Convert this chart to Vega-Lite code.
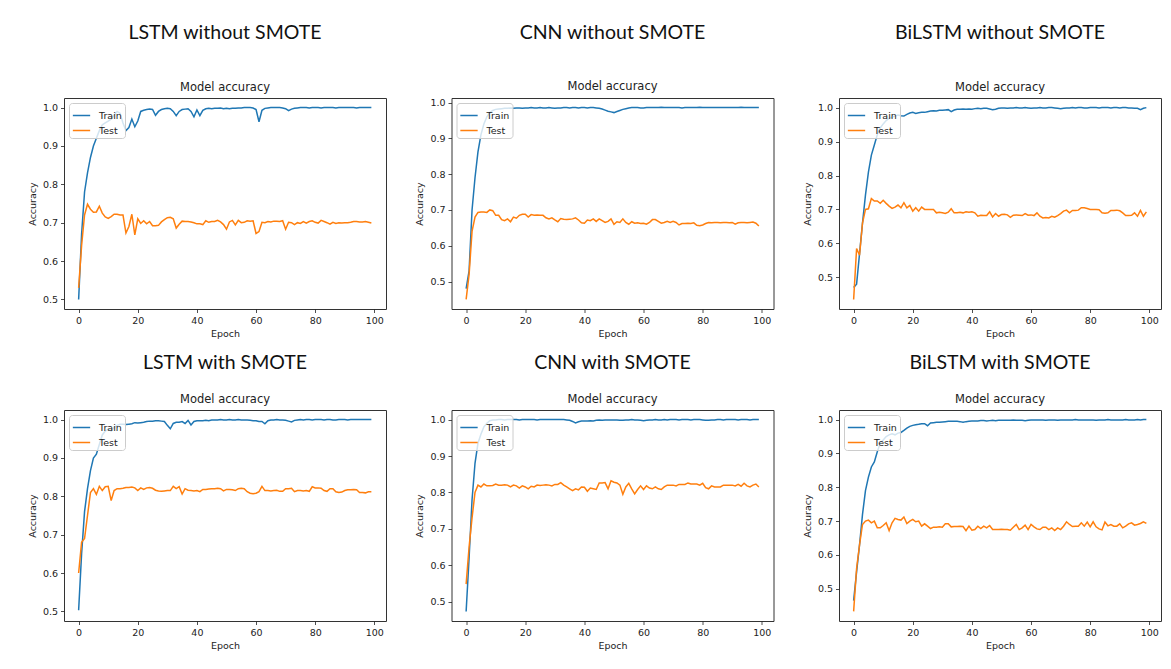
{
"$schema": "https://vega.github.io/schema/vega-lite/v6.json",
"background": "white",
"padding": {"left": 26, "top": 22, "right": 5, "bottom": 5},
"config": {
 "view": {"stroke": "#333333", "strokeWidth": 1},
 "title": {"font": "Lato", "fontSize": 19.5, "fontWeight": "normal", "color": "#111111", "subtitleFont": "DejaVu Sans", "subtitleFontSize": 11.5, "subtitleColor": "#222222", "anchor": "middle", "frame": "group", "offset": 4},
 "axis": {"domain": false, "grid": false, "tickColor": "#222222", "tickSize": 3.5, "tickWidth": 0.8, "labelFont": "DejaVu Sans", "labelFontSize": 9.5, "labelColor": "#222222", "labelPadding": 3, "labelFlush": false, "labelOverlap": false, "titleFont": "DejaVu Sans", "titleFontSize": 9.5, "titleFontWeight": "normal", "titleColor": "#222222", "titlePadding": 3},
 "axisY": {"titlePadding": 5},
 "legend": {"orient": "top-left", "offset": 5, "title": null, "fillColor": "rgba(255,255,255,0.8)", "strokeColor": "#cccccc", "cornerRadius": 3, "padding": 3, "symbolType": "stroke", "symbolSize": 300, "symbolStrokeWidth": 1.5, "labelFont": "DejaVu Sans", "labelFontSize": 9.5, "labelColor": "#222222", "labelOffset": 8, "rowPadding": 1}
},
"datasets": {
"p1": [
{"e":0,"Train":0.50,"Test":0.53},{"e":1,"Train":0.67,"Test":0.64},{"e":2,"Train":0.78,"Test":0.72},{"e":3,"Train":0.83,"Test":0.748},{"e":4,"Train":0.87,"Test":0.735},{"e":5,"Train":0.90,"Test":0.727},{"e":6,"Train":0.92,"Test":0.728},{"e":7,"Train":0.94,"Test":0.743},{"e":8,"Train":0.955,"Test":0.725},{"e":9,"Train":0.96,"Test":0.715},
{"e":10,"Train":0.965,"Test":0.711},{"e":11,"Train":0.97,"Test":0.716},{"e":12,"Train":0.98,"Test":0.722},{"e":13,"Train":0.99,"Test":0.722},{"e":14,"Train":0.985,"Test":0.72},{"e":15,"Train":0.96,"Test":0.72},{"e":16,"Train":0.94,"Test":0.673},{"e":17,"Train":0.948,"Test":0.69},{"e":18,"Train":0.97,"Test":0.722},{"e":19,"Train":0.95,"Test":0.668},
{"e":20,"Train":0.965,"Test":0.71},{"e":21,"Train":0.99,"Test":0.698},{"e":22,"Train":0.993,"Test":0.705},{"e":23,"Train":0.995,"Test":0.697},{"e":24,"Train":0.996,"Test":0.703},{"e":25,"Train":0.995,"Test":0.692},{"e":26,"Train":0.98,"Test":0.692},{"e":27,"Train":0.99,"Test":0.693},{"e":28,"Train":0.995,"Test":0.702},{"e":29,"Train":0.997,"Test":0.708},
{"e":30,"Train":0.998,"Test":0.713},{"e":31,"Train":0.997,"Test":0.714},{"e":32,"Train":0.99,"Test":0.71},{"e":33,"Train":0.979,"Test":0.686},{"e":34,"Train":0.99,"Test":0.696},{"e":35,"Train":0.995,"Test":0.704},{"e":36,"Train":0.996,"Test":0.703},{"e":37,"Train":0.997,"Test":0.703},{"e":38,"Train":0.99,"Test":0.702},{"e":39,"Train":0.976,"Test":0.7},
{"e":40,"Train":0.994,"Test":0.697},{"e":41,"Train":0.979,"Test":0.697},{"e":42,"Train":0.993,"Test":0.695},{"e":43,"Train":0.997,"Test":0.705},{"e":44,"Train":0.998,"Test":0.701},{"e":45,"Train":0.997,"Test":0.703},{"e":46,"Train":0.998,"Test":0.703},{"e":47,"Train":0.998,"Test":0.706},{"e":48,"Train":0.999,"Test":0.702},{"e":49,"Train":0.997,"Test":0.695},
{"e":50,"Train":0.998,"Test":0.683},{"e":51,"Train":0.997,"Test":0.702},{"e":52,"Train":0.998,"Test":0.706},{"e":53,"Train":0.998,"Test":0.694},{"e":54,"Train":0.999,"Test":0.706},{"e":55,"Train":0.999,"Test":0.7},{"e":56,"Train":1.0,"Test":0.701},{"e":57,"Train":1.0,"Test":0.705},{"e":58,"Train":1.0,"Test":0.704},{"e":59,"Train":0.999,"Test":0.705},
{"e":60,"Train":0.995,"Test":0.672},{"e":61,"Train":0.963,"Test":0.677},{"e":62,"Train":0.993,"Test":0.701},{"e":63,"Train":0.998,"Test":0.7},{"e":64,"Train":0.999,"Test":0.703},{"e":65,"Train":1.0,"Test":0.702},{"e":66,"Train":1.0,"Test":0.704},{"e":67,"Train":1.0,"Test":0.704},{"e":68,"Train":1.0,"Test":0.703},{"e":69,"Train":0.999,"Test":0.705},
{"e":70,"Train":0.997,"Test":0.683},{"e":71,"Train":0.992,"Test":0.701},{"e":72,"Train":0.996,"Test":0.7},{"e":73,"Train":0.998,"Test":0.695},{"e":74,"Train":0.999,"Test":0.7},{"e":75,"Train":1.0,"Test":0.698},{"e":76,"Train":1.0,"Test":0.703},{"e":77,"Train":1.0,"Test":0.699},{"e":78,"Train":0.999,"Test":0.703},{"e":79,"Train":1.0,"Test":0.705},
{"e":80,"Train":1.0,"Test":0.701},{"e":81,"Train":1.0,"Test":0.699},{"e":82,"Train":0.999,"Test":0.706},{"e":83,"Train":1.0,"Test":0.703},{"e":84,"Train":1.0,"Test":0.7},{"e":85,"Train":1.0,"Test":0.696},{"e":86,"Train":1.0,"Test":0.701},{"e":87,"Train":0.999,"Test":0.698},{"e":88,"Train":1.0,"Test":0.7},{"e":89,"Train":1.0,"Test":0.699},
{"e":90,"Train":1.0,"Test":0.7},{"e":91,"Train":1.0,"Test":0.7},{"e":92,"Train":1.0,"Test":0.701},{"e":93,"Train":1.0,"Test":0.703},{"e":94,"Train":0.999,"Test":0.703},{"e":95,"Train":1.0,"Test":0.702},{"e":96,"Train":1.0,"Test":0.702},{"e":97,"Train":1.0,"Test":0.703},{"e":98,"Train":1.0,"Test":0.701},{"e":99,"Train":1.0,"Test":0.699}
],
"p2": [
{"e":0,"Train":0.48,"Test":0.45},{"e":1,"Train":0.53,"Test":0.52},{"e":2,"Train":0.70,"Test":0.64},{"e":3,"Train":0.79,"Test":0.68},{"e":4,"Train":0.862,"Test":0.693},{"e":5,"Train":0.91,"Test":0.694},{"e":6,"Train":0.94,"Test":0.694},{"e":7,"Train":0.96,"Test":0.693},{"e":8,"Train":0.972,"Test":0.70},{"e":9,"Train":0.978,"Test":0.698},
{"e":10,"Train":0.981,"Test":0.685},{"e":11,"Train":0.982,"Test":0.685},{"e":12,"Train":0.983,"Test":0.673},{"e":13,"Train":0.984,"Test":0.67},{"e":14,"Train":0.984,"Test":0.675},{"e":15,"Train":0.985,"Test":0.667},{"e":16,"Train":0.984,"Test":0.68},{"e":17,"Train":0.985,"Test":0.677},{"e":18,"Train":0.985,"Test":0.685},{"e":19,"Train":0.984,"Test":0.688},
{"e":20,"Train":0.985,"Test":0.688},{"e":21,"Train":0.985,"Test":0.68},{"e":22,"Train":0.986,"Test":0.687},{"e":23,"Train":0.985,"Test":0.685},{"e":24,"Train":0.985,"Test":0.686},{"e":25,"Train":0.986,"Test":0.685},{"e":26,"Train":0.985,"Test":0.685},{"e":27,"Train":0.985,"Test":0.678},{"e":28,"Train":0.986,"Test":0.675},{"e":29,"Train":0.985,"Test":0.678},
{"e":30,"Train":0.984,"Test":0.672},{"e":31,"Train":0.985,"Test":0.667},{"e":32,"Train":0.985,"Test":0.676},{"e":33,"Train":0.986,"Test":0.674},{"e":34,"Train":0.986,"Test":0.673},{"e":35,"Train":0.985,"Test":0.674},{"e":36,"Train":0.986,"Test":0.675},{"e":37,"Train":0.986,"Test":0.678},{"e":38,"Train":0.985,"Test":0.672},{"e":39,"Train":0.986,"Test":0.664},
{"e":40,"Train":0.986,"Test":0.663},{"e":41,"Train":0.985,"Test":0.672},{"e":42,"Train":0.986,"Test":0.67},{"e":43,"Train":0.986,"Test":0.675},{"e":44,"Train":0.985,"Test":0.668},{"e":45,"Train":0.984,"Test":0.675},{"e":46,"Train":0.982,"Test":0.67},{"e":47,"Train":0.979,"Test":0.665},{"e":48,"Train":0.976,"Test":0.668},{"e":49,"Train":0.974,"Test":0.675},
{"e":50,"Train":0.972,"Test":0.66},{"e":51,"Train":0.975,"Test":0.667},{"e":52,"Train":0.978,"Test":0.665},{"e":53,"Train":0.981,"Test":0.675},{"e":54,"Train":0.983,"Test":0.665},{"e":55,"Train":0.985,"Test":0.66},{"e":56,"Train":0.986,"Test":0.667},{"e":57,"Train":0.986,"Test":0.663},{"e":58,"Train":0.986,"Test":0.664},{"e":59,"Train":0.985,"Test":0.662},
{"e":60,"Train":0.985,"Test":0.663},{"e":61,"Train":0.986,"Test":0.66},{"e":62,"Train":0.986,"Test":0.665},{"e":63,"Train":0.986,"Test":0.673},{"e":64,"Train":0.986,"Test":0.673},{"e":65,"Train":0.986,"Test":0.668},{"e":66,"Train":0.987,"Test":0.663},{"e":67,"Train":0.986,"Test":0.665},{"e":68,"Train":0.986,"Test":0.668},{"e":69,"Train":0.986,"Test":0.665},
{"e":70,"Train":0.986,"Test":0.668},{"e":71,"Train":0.986,"Test":0.665},{"e":72,"Train":0.986,"Test":0.658},{"e":73,"Train":0.985,"Test":0.662},{"e":74,"Train":0.986,"Test":0.662},{"e":75,"Train":0.986,"Test":0.663},{"e":76,"Train":0.986,"Test":0.662},{"e":77,"Train":0.986,"Test":0.664},{"e":78,"Train":0.986,"Test":0.657},{"e":79,"Train":0.987,"Test":0.656},
{"e":80,"Train":0.986,"Test":0.658},{"e":81,"Train":0.986,"Test":0.662},{"e":82,"Train":0.986,"Test":0.665},{"e":83,"Train":0.986,"Test":0.664},{"e":84,"Train":0.986,"Test":0.665},{"e":85,"Train":0.986,"Test":0.665},{"e":86,"Train":0.986,"Test":0.664},{"e":87,"Train":0.986,"Test":0.665},{"e":88,"Train":0.986,"Test":0.665},{"e":89,"Train":0.986,"Test":0.664},
{"e":90,"Train":0.986,"Test":0.665},{"e":91,"Train":0.986,"Test":0.66},{"e":92,"Train":0.986,"Test":0.664},{"e":93,"Train":0.987,"Test":0.665},{"e":94,"Train":0.986,"Test":0.665},{"e":95,"Train":0.986,"Test":0.664},{"e":96,"Train":0.986,"Test":0.665},{"e":97,"Train":0.986,"Test":0.666},{"e":98,"Train":0.986,"Test":0.663},{"e":99,"Train":0.986,"Test":0.655}
],
"p3": [
{"e":0,"Train":0.47,"Test":0.435},{"e":1,"Train":0.48,"Test":0.585},{"e":2,"Train":0.57,"Test":0.565},{"e":3,"Train":0.66,"Test":0.66},{"e":4,"Train":0.742,"Test":0.70},{"e":5,"Train":0.81,"Test":0.702},{"e":6,"Train":0.86,"Test":0.732},{"e":7,"Train":0.89,"Test":0.725},{"e":8,"Train":0.92,"Test":0.725},{"e":9,"Train":0.94,"Test":0.718},
{"e":10,"Train":0.952,"Test":0.727},{"e":11,"Train":0.962,"Test":0.718},{"e":12,"Train":0.968,"Test":0.71},{"e":13,"Train":0.972,"Test":0.703},{"e":14,"Train":0.975,"Test":0.707},{"e":15,"Train":0.978,"Test":0.713},{"e":16,"Train":0.976,"Test":0.705},{"e":17,"Train":0.975,"Test":0.72},{"e":18,"Train":0.98,"Test":0.705},{"e":19,"Train":0.984,"Test":0.712},
{"e":20,"Train":0.986,"Test":0.695},{"e":21,"Train":0.983,"Test":0.705},{"e":22,"Train":0.985,"Test":0.695},{"e":23,"Train":0.986,"Test":0.707},{"e":24,"Train":0.986,"Test":0.70},{"e":25,"Train":0.988,"Test":0.70},{"e":26,"Train":0.99,"Test":0.70},{"e":27,"Train":0.991,"Test":0.70},{"e":28,"Train":0.99,"Test":0.69},{"e":29,"Train":0.992,"Test":0.692},
{"e":30,"Train":0.992,"Test":0.69},{"e":31,"Train":0.993,"Test":0.688},{"e":32,"Train":0.994,"Test":0.692},{"e":33,"Train":0.988,"Test":0.702},{"e":34,"Train":0.993,"Test":0.69},{"e":35,"Train":0.995,"Test":0.69},{"e":36,"Train":0.995,"Test":0.692},{"e":37,"Train":0.996,"Test":0.69},{"e":38,"Train":0.995,"Test":0.693},{"e":39,"Train":0.996,"Test":0.692},
{"e":40,"Train":0.995,"Test":0.693},{"e":41,"Train":0.997,"Test":0.69},{"e":42,"Train":0.998,"Test":0.68},{"e":43,"Train":0.997,"Test":0.683},{"e":44,"Train":0.998,"Test":0.682},{"e":45,"Train":0.998,"Test":0.682},{"e":46,"Train":0.996,"Test":0.693},{"e":47,"Train":0.994,"Test":0.678},{"e":48,"Train":0.995,"Test":0.688},{"e":49,"Train":0.998,"Test":0.68},
{"e":50,"Train":0.999,"Test":0.685},{"e":51,"Train":0.999,"Test":0.686},{"e":52,"Train":0.998,"Test":0.684},{"e":53,"Train":0.999,"Test":0.677},{"e":54,"Train":0.999,"Test":0.683},{"e":55,"Train":1.0,"Test":0.684},{"e":56,"Train":0.999,"Test":0.683},{"e":57,"Train":0.999,"Test":0.682},{"e":58,"Train":1.0,"Test":0.688},{"e":59,"Train":0.999,"Test":0.683},
{"e":60,"Train":0.998,"Test":0.684},{"e":61,"Train":0.999,"Test":0.682},{"e":62,"Train":0.999,"Test":0.69},{"e":63,"Train":1.0,"Test":0.68},{"e":64,"Train":0.999,"Test":0.675},{"e":65,"Train":0.999,"Test":0.676},{"e":66,"Train":1.0,"Test":0.675},{"e":67,"Train":1.0,"Test":0.68},{"e":68,"Train":0.999,"Test":0.677},{"e":69,"Train":0.998,"Test":0.682},
{"e":70,"Train":0.997,"Test":0.688},{"e":71,"Train":0.998,"Test":0.695},{"e":72,"Train":0.999,"Test":0.698},{"e":73,"Train":0.999,"Test":0.69},{"e":74,"Train":1.0,"Test":0.697},{"e":75,"Train":0.999,"Test":0.697},{"e":76,"Train":1.0,"Test":0.698},{"e":77,"Train":1.0,"Test":0.705},{"e":78,"Train":0.999,"Test":0.705},{"e":79,"Train":0.999,"Test":0.703},
{"e":80,"Train":1.0,"Test":0.70},{"e":81,"Train":1.0,"Test":0.70},{"e":82,"Train":1.0,"Test":0.70},{"e":83,"Train":0.999,"Test":0.699},{"e":84,"Train":1.0,"Test":0.69},{"e":85,"Train":1.0,"Test":0.689},{"e":86,"Train":1.0,"Test":0.69},{"e":87,"Train":0.999,"Test":0.697},{"e":88,"Train":1.0,"Test":0.697},{"e":89,"Train":1.0,"Test":0.698},
{"e":90,"Train":0.999,"Test":0.696},{"e":91,"Train":1.0,"Test":0.69},{"e":92,"Train":1.0,"Test":0.682},{"e":93,"Train":0.999,"Test":0.682},{"e":94,"Train":0.999,"Test":0.683},{"e":95,"Train":0.998,"Test":0.69},{"e":96,"Train":0.998,"Test":0.68},{"e":97,"Train":0.994,"Test":0.697},{"e":98,"Train":0.998,"Test":0.68},{"e":99,"Train":1.0,"Test":0.693}
],
"p4": [
{"e":0,"Train":0.503,"Test":0.60},{"e":1,"Train":0.65,"Test":0.68},{"e":2,"Train":0.76,"Test":0.69},{"e":3,"Train":0.82,"Test":0.75},{"e":4,"Train":0.867,"Test":0.81},{"e":5,"Train":0.90,"Test":0.82},{"e":6,"Train":0.91,"Test":0.805},{"e":7,"Train":0.935,"Test":0.826},{"e":8,"Train":0.96,"Test":0.815},{"e":9,"Train":0.97,"Test":0.825},
{"e":10,"Train":0.975,"Test":0.826},{"e":11,"Train":0.97,"Test":0.789},{"e":12,"Train":0.98,"Test":0.815},{"e":13,"Train":0.985,"Test":0.82},{"e":14,"Train":0.988,"Test":0.82},{"e":15,"Train":0.988,"Test":0.821},{"e":16,"Train":0.987,"Test":0.823},{"e":17,"Train":0.988,"Test":0.823},{"e":18,"Train":0.989,"Test":0.824},{"e":19,"Train":0.992,"Test":0.822},
{"e":20,"Train":0.991,"Test":0.815},{"e":21,"Train":0.992,"Test":0.822},{"e":22,"Train":0.993,"Test":0.818},{"e":23,"Train":0.995,"Test":0.822},{"e":24,"Train":0.996,"Test":0.823},{"e":25,"Train":0.996,"Test":0.821},{"e":26,"Train":0.997,"Test":0.816},{"e":27,"Train":0.997,"Test":0.814},{"e":28,"Train":0.996,"Test":0.813},{"e":29,"Train":0.995,"Test":0.814},
{"e":30,"Train":0.985,"Test":0.815},{"e":31,"Train":0.976,"Test":0.815},{"e":32,"Train":0.99,"Test":0.826},{"e":33,"Train":0.993,"Test":0.82},{"e":34,"Train":0.993,"Test":0.825},{"e":35,"Train":0.995,"Test":0.806},{"e":36,"Train":0.99,"Test":0.82},{"e":37,"Train":0.998,"Test":0.816},{"e":38,"Train":0.986,"Test":0.815},{"e":39,"Train":0.995,"Test":0.814},
{"e":40,"Train":0.997,"Test":0.815},{"e":41,"Train":0.997,"Test":0.812},{"e":42,"Train":0.997,"Test":0.818},{"e":43,"Train":0.998,"Test":0.818},{"e":44,"Train":0.997,"Test":0.819},{"e":45,"Train":0.999,"Test":0.82},{"e":46,"Train":0.999,"Test":0.82},{"e":47,"Train":0.999,"Test":0.821},{"e":48,"Train":1.0,"Test":0.82},{"e":49,"Train":0.999,"Test":0.814},
{"e":50,"Train":0.999,"Test":0.818},{"e":51,"Train":1.0,"Test":0.818},{"e":52,"Train":0.999,"Test":0.817},{"e":53,"Train":0.999,"Test":0.815},{"e":54,"Train":1.0,"Test":0.82},{"e":55,"Train":0.999,"Test":0.821},{"e":56,"Train":0.999,"Test":0.82},{"e":57,"Train":0.999,"Test":0.812},{"e":58,"Train":0.998,"Test":0.808},{"e":59,"Train":0.997,"Test":0.807},
{"e":60,"Train":0.997,"Test":0.808},{"e":61,"Train":0.995,"Test":0.812},{"e":62,"Train":0.995,"Test":0.826},{"e":63,"Train":0.989,"Test":0.815},{"e":64,"Train":0.997,"Test":0.815},{"e":65,"Train":0.999,"Test":0.814},{"e":66,"Train":0.999,"Test":0.815},{"e":67,"Train":1.0,"Test":0.816},{"e":68,"Train":0.999,"Test":0.813},{"e":69,"Train":0.999,"Test":0.813},
{"e":70,"Train":0.998,"Test":0.82},{"e":71,"Train":0.996,"Test":0.82},{"e":72,"Train":0.994,"Test":0.821},{"e":73,"Train":0.998,"Test":0.812},{"e":74,"Train":0.999,"Test":0.815},{"e":75,"Train":1.0,"Test":0.815},{"e":76,"Train":0.999,"Test":0.814},{"e":77,"Train":1.0,"Test":0.815},{"e":78,"Train":1.0,"Test":0.813},{"e":79,"Train":0.999,"Test":0.825},
{"e":80,"Train":1.0,"Test":0.822},{"e":81,"Train":1.0,"Test":0.822},{"e":82,"Train":1.0,"Test":0.821},{"e":83,"Train":0.999,"Test":0.815},{"e":84,"Train":1.0,"Test":0.813},{"e":85,"Train":1.0,"Test":0.82},{"e":86,"Train":0.999,"Test":0.82},{"e":87,"Train":0.999,"Test":0.812},{"e":88,"Train":1.0,"Test":0.81},{"e":89,"Train":1.0,"Test":0.811},
{"e":90,"Train":1.0,"Test":0.815},{"e":91,"Train":0.999,"Test":0.817},{"e":92,"Train":1.0,"Test":0.817},{"e":93,"Train":1.0,"Test":0.818},{"e":94,"Train":1.0,"Test":0.817},{"e":95,"Train":1.0,"Test":0.81},{"e":96,"Train":1.0,"Test":0.81},{"e":97,"Train":1.0,"Test":0.809},{"e":98,"Train":1.0,"Test":0.812},{"e":99,"Train":1.0,"Test":0.812}
],
"p5": [
{"e":0,"Train":0.473,"Test":0.548},{"e":1,"Train":0.62,"Test":0.65},{"e":2,"Train":0.78,"Test":0.73},{"e":3,"Train":0.88,"Test":0.80},{"e":4,"Train":0.935,"Test":0.82},{"e":5,"Train":0.96,"Test":0.815},{"e":6,"Train":0.98,"Test":0.823},{"e":7,"Train":0.99,"Test":0.818},{"e":8,"Train":0.997,"Test":0.818},{"e":9,"Train":0.999,"Test":0.819},
{"e":10,"Train":0.999,"Test":0.823},{"e":11,"Train":1.0,"Test":0.82},{"e":12,"Train":1.0,"Test":0.82},{"e":13,"Train":0.999,"Test":0.821},{"e":14,"Train":1.0,"Test":0.82},{"e":15,"Train":1.0,"Test":0.815},{"e":16,"Train":1.0,"Test":0.82},{"e":17,"Train":1.0,"Test":0.818},{"e":18,"Train":0.999,"Test":0.812},{"e":19,"Train":1.0,"Test":0.818},
{"e":20,"Train":1.0,"Test":0.815},{"e":21,"Train":1.0,"Test":0.81},{"e":22,"Train":1.0,"Test":0.817},{"e":23,"Train":1.0,"Test":0.815},{"e":24,"Train":0.999,"Test":0.82},{"e":25,"Train":1.0,"Test":0.819},{"e":26,"Train":1.0,"Test":0.82},{"e":27,"Train":1.0,"Test":0.821},{"e":28,"Train":1.0,"Test":0.82},{"e":29,"Train":1.0,"Test":0.818},
{"e":30,"Train":1.0,"Test":0.822},{"e":31,"Train":1.0,"Test":0.822},{"e":32,"Train":1.0,"Test":0.827},{"e":33,"Train":1.0,"Test":0.82},{"e":34,"Train":0.999,"Test":0.815},{"e":35,"Train":0.998,"Test":0.81},{"e":36,"Train":0.995,"Test":0.805},{"e":37,"Train":0.991,"Test":0.81},{"e":38,"Train":0.994,"Test":0.807},{"e":39,"Train":0.996,"Test":0.815},
{"e":40,"Train":0.996,"Test":0.814},{"e":41,"Train":0.996,"Test":0.803},{"e":42,"Train":0.997,"Test":0.812},{"e":43,"Train":0.996,"Test":0.81},{"e":44,"Train":0.998,"Test":0.808},{"e":45,"Train":0.999,"Test":0.826},{"e":46,"Train":0.998,"Test":0.826},{"e":47,"Train":0.999,"Test":0.827},{"e":48,"Train":0.999,"Test":0.81},{"e":49,"Train":0.999,"Test":0.832},
{"e":50,"Train":0.999,"Test":0.828},{"e":51,"Train":0.999,"Test":0.826},{"e":52,"Train":0.998,"Test":0.82},{"e":53,"Train":0.998,"Test":0.795},{"e":54,"Train":0.999,"Test":0.815},{"e":55,"Train":0.999,"Test":0.825},{"e":56,"Train":1.0,"Test":0.81},{"e":57,"Train":0.999,"Test":0.796},{"e":58,"Train":0.999,"Test":0.808},{"e":59,"Train":0.998,"Test":0.818},
{"e":60,"Train":0.997,"Test":0.808},{"e":61,"Train":0.998,"Test":0.818},{"e":62,"Train":0.999,"Test":0.812},{"e":63,"Train":0.999,"Test":0.81},{"e":64,"Train":1.0,"Test":0.815},{"e":65,"Train":0.999,"Test":0.81},{"e":66,"Train":0.999,"Test":0.808},{"e":67,"Train":1.0,"Test":0.815},{"e":68,"Train":0.999,"Test":0.82},{"e":69,"Train":1.0,"Test":0.82},
{"e":70,"Train":1.0,"Test":0.82},{"e":71,"Train":1.0,"Test":0.818},{"e":72,"Train":0.999,"Test":0.822},{"e":73,"Train":1.0,"Test":0.822},{"e":74,"Train":1.0,"Test":0.822},{"e":75,"Train":1.0,"Test":0.826},{"e":76,"Train":0.999,"Test":0.823},{"e":77,"Train":1.0,"Test":0.823},{"e":78,"Train":1.0,"Test":0.823},{"e":79,"Train":1.0,"Test":0.82},
{"e":80,"Train":0.999,"Test":0.825},{"e":81,"Train":0.998,"Test":0.813},{"e":82,"Train":0.998,"Test":0.81},{"e":83,"Train":0.999,"Test":0.818},{"e":84,"Train":0.999,"Test":0.815},{"e":85,"Train":1.0,"Test":0.815},{"e":86,"Train":1.0,"Test":0.815},{"e":87,"Train":0.999,"Test":0.82},{"e":88,"Train":1.0,"Test":0.82},{"e":89,"Train":1.0,"Test":0.82},
{"e":90,"Train":1.0,"Test":0.82},{"e":91,"Train":1.0,"Test":0.818},{"e":92,"Train":0.999,"Test":0.822},{"e":93,"Train":1.0,"Test":0.817},{"e":94,"Train":1.0,"Test":0.825},{"e":95,"Train":1.0,"Test":0.818},{"e":96,"Train":0.999,"Test":0.815},{"e":97,"Train":1.0,"Test":0.82},{"e":98,"Train":1.0,"Test":0.823},{"e":99,"Train":1.0,"Test":0.815}
],
"p6": [
{"e":0,"Train":0.465,"Test":0.433},{"e":1,"Train":0.55,"Test":0.56},{"e":2,"Train":0.63,"Test":0.63},{"e":3,"Train":0.72,"Test":0.69},{"e":4,"Train":0.79,"Test":0.70},{"e":5,"Train":0.83,"Test":0.703},{"e":6,"Train":0.86,"Test":0.695},{"e":7,"Train":0.875,"Test":0.70},{"e":8,"Train":0.905,"Test":0.68},{"e":9,"Train":0.93,"Test":0.68},
{"e":10,"Train":0.94,"Test":0.687},{"e":11,"Train":0.95,"Test":0.695},{"e":12,"Train":0.955,"Test":0.672},{"e":13,"Train":0.958,"Test":0.695},{"e":14,"Train":0.955,"Test":0.708},{"e":15,"Train":0.96,"Test":0.705},{"e":16,"Train":0.962,"Test":0.703},{"e":17,"Train":0.968,"Test":0.712},{"e":18,"Train":0.975,"Test":0.693},{"e":19,"Train":0.98,"Test":0.70},
{"e":20,"Train":0.983,"Test":0.705},{"e":21,"Train":0.985,"Test":0.698},{"e":22,"Train":0.986,"Test":0.70},{"e":23,"Train":0.988,"Test":0.685},{"e":24,"Train":0.988,"Test":0.692},{"e":25,"Train":0.982,"Test":0.685},{"e":26,"Train":0.99,"Test":0.678},{"e":27,"Train":0.991,"Test":0.682},{"e":28,"Train":0.992,"Test":0.682},{"e":29,"Train":0.992,"Test":0.683},
{"e":30,"Train":0.993,"Test":0.682},{"e":31,"Train":0.994,"Test":0.692},{"e":32,"Train":0.995,"Test":0.692},{"e":33,"Train":0.995,"Test":0.683},{"e":34,"Train":0.995,"Test":0.684},{"e":35,"Train":0.995,"Test":0.684},{"e":36,"Train":0.994,"Test":0.685},{"e":37,"Train":0.992,"Test":0.684},{"e":38,"Train":0.994,"Test":0.672},{"e":39,"Train":0.995,"Test":0.685},
{"e":40,"Train":0.996,"Test":0.673},{"e":41,"Train":0.996,"Test":0.675},{"e":42,"Train":0.996,"Test":0.685},{"e":43,"Train":0.997,"Test":0.678},{"e":44,"Train":0.997,"Test":0.685},{"e":45,"Train":0.996,"Test":0.68},{"e":46,"Train":0.997,"Test":0.687},{"e":47,"Train":0.998,"Test":0.675},{"e":48,"Train":0.997,"Test":0.675},{"e":49,"Train":0.998,"Test":0.675},
{"e":50,"Train":0.998,"Test":0.676},{"e":51,"Train":0.998,"Test":0.675},{"e":52,"Train":0.998,"Test":0.675},{"e":53,"Train":0.998,"Test":0.673},{"e":54,"Train":0.999,"Test":0.682},{"e":55,"Train":0.998,"Test":0.69},{"e":56,"Train":0.998,"Test":0.675},{"e":57,"Train":0.998,"Test":0.68},{"e":58,"Train":0.997,"Test":0.688},{"e":59,"Train":0.998,"Test":0.675},
{"e":60,"Train":0.999,"Test":0.69},{"e":61,"Train":0.999,"Test":0.683},{"e":62,"Train":0.999,"Test":0.677},{"e":63,"Train":0.999,"Test":0.675},{"e":64,"Train":0.999,"Test":0.682},{"e":65,"Train":0.998,"Test":0.682},{"e":66,"Train":0.999,"Test":0.675},{"e":67,"Train":0.999,"Test":0.68},{"e":68,"Train":0.999,"Test":0.672},{"e":69,"Train":0.998,"Test":0.68},
{"e":70,"Train":0.999,"Test":0.675},{"e":71,"Train":0.999,"Test":0.685},{"e":72,"Train":0.999,"Test":0.698},{"e":73,"Train":0.999,"Test":0.69},{"e":74,"Train":0.999,"Test":0.684},{"e":75,"Train":1.0,"Test":0.685},{"e":76,"Train":0.999,"Test":0.685},{"e":77,"Train":0.999,"Test":0.695},{"e":78,"Train":0.999,"Test":0.685},{"e":79,"Train":0.999,"Test":0.697},
{"e":80,"Train":0.999,"Test":0.683},{"e":81,"Train":0.999,"Test":0.698},{"e":82,"Train":0.998,"Test":0.683},{"e":83,"Train":0.999,"Test":0.677},{"e":84,"Train":0.999,"Test":0.674},{"e":85,"Train":0.999,"Test":0.697},{"e":86,"Train":1.0,"Test":0.686},{"e":87,"Train":0.999,"Test":0.69},{"e":88,"Train":0.999,"Test":0.685},{"e":89,"Train":0.999,"Test":0.685},
{"e":90,"Train":0.999,"Test":0.692},{"e":91,"Train":0.999,"Test":0.68},{"e":92,"Train":1.0,"Test":0.685},{"e":93,"Train":0.999,"Test":0.692},{"e":94,"Train":0.999,"Test":0.695},{"e":95,"Train":0.999,"Test":0.688},{"e":96,"Train":1.0,"Test":0.69},{"e":97,"Train":0.999,"Test":0.693},{"e":98,"Train":1.0,"Test":0.698},{"e":99,"Train":1.0,"Test":0.693}
]
},
"columns": 3,
"bounds": "flush",
"spacing": {"row": 101, "column": 65.5},
"resolve": {"scale": {"color": "independent", "x": "independent", "y": "independent"}},
"concat": [
{"width": 322, "height": 211, "title": {"text": "LSTM without SMOTE", "subtitle": "Model accuracy", "subtitlePadding": 38}, "data": {"name": "p1"}, "transform": [{"fold": ["Train", "Test"], "as": ["series", "acc"]}], "mark": {"type": "line", "strokeWidth": 1.5},
 "encoding": {"x": {"field": "e", "type": "quantitative", "title": "Epoch", "scale": {"domain": [-4.95, 103.95], "nice": false, "zero": false}, "axis": {"values": [0, 20, 40, 60, 80, 100]}}, "y": {"field": "acc", "type": "quantitative", "title": "Accuracy", "scale": {"domain": [0.475, 1.025], "nice": false, "zero": false}, "axis": {"values": [0.5, 0.6, 0.7, 0.8, 0.9, 1.0], "format": ".1f"}}, "color": {"field": "series", "type": "nominal", "scale": {"domain": ["Train", "Test"], "range": ["#1f77b4", "#ff7f0e"]}}}},
{"width": 322, "height": 211, "title": {"text": "CNN without SMOTE", "subtitle": "Model accuracy", "subtitlePadding": 38}, "data": {"name": "p2"}, "transform": [{"fold": ["Train", "Test"], "as": ["series", "acc"]}], "mark": {"type": "line", "strokeWidth": 1.5},
 "encoding": {"x": {"field": "e", "type": "quantitative", "title": "Epoch", "scale": {"domain": [-4.95, 103.95], "nice": false, "zero": false}, "axis": {"values": [0, 20, 40, 60, 80, 100]}}, "y": {"field": "acc", "type": "quantitative", "title": "Accuracy", "scale": {"domain": [0.4232, 1.0128], "nice": false, "zero": false}, "axis": {"values": [0.5, 0.6, 0.7, 0.8, 0.9, 1.0], "format": ".1f"}}, "color": {"field": "series", "type": "nominal", "scale": {"domain": ["Train", "Test"], "range": ["#1f77b4", "#ff7f0e"]}}}},
{"width": 322, "height": 211, "title": {"text": "BiLSTM without SMOTE", "subtitle": "Model accuracy", "subtitlePadding": 38}, "data": {"name": "p3"}, "transform": [{"fold": ["Train", "Test"], "as": ["series", "acc"]}], "mark": {"type": "line", "strokeWidth": 1.5},
 "encoding": {"x": {"field": "e", "type": "quantitative", "title": "Epoch", "scale": {"domain": [-4.95, 103.95], "nice": false, "zero": false}, "axis": {"values": [0, 20, 40, 60, 80, 100]}}, "y": {"field": "acc", "type": "quantitative", "title": "Accuracy", "scale": {"domain": [0.4068, 1.0283], "nice": false, "zero": false}, "axis": {"values": [0.5, 0.6, 0.7, 0.8, 0.9, 1.0], "format": ".1f"}}, "color": {"field": "series", "type": "nominal", "scale": {"domain": ["Train", "Test"], "range": ["#1f77b4", "#ff7f0e"]}}}},
{"width": 322, "height": 211, "title": {"text": "LSTM with SMOTE", "subtitle": "Model accuracy", "subtitlePadding": 20}, "data": {"name": "p4"}, "transform": [{"fold": ["Train", "Test"], "as": ["series", "acc"]}], "mark": {"type": "line", "strokeWidth": 1.5},
 "encoding": {"x": {"field": "e", "type": "quantitative", "title": "Epoch", "scale": {"domain": [-4.95, 103.95], "nice": false, "zero": false}, "axis": {"values": [0, 20, 40, 60, 80, 100]}}, "y": {"field": "acc", "type": "quantitative", "title": "Accuracy", "scale": {"domain": [0.475, 1.025], "nice": false, "zero": false}, "axis": {"values": [0.5, 0.6, 0.7, 0.8, 0.9, 1.0], "format": ".1f"}}, "color": {"field": "series", "type": "nominal", "scale": {"domain": ["Train", "Test"], "range": ["#1f77b4", "#ff7f0e"]}}}},
{"width": 322, "height": 211, "title": {"text": "CNN with SMOTE", "subtitle": "Model accuracy", "subtitlePadding": 20}, "data": {"name": "p5"}, "transform": [{"fold": ["Train", "Test"], "as": ["series", "acc"]}], "mark": {"type": "line", "strokeWidth": 1.5},
 "encoding": {"x": {"field": "e", "type": "quantitative", "title": "Epoch", "scale": {"domain": [-4.95, 103.95], "nice": false, "zero": false}, "axis": {"values": [0, 20, 40, 60, 80, 100]}}, "y": {"field": "acc", "type": "quantitative", "title": "Accuracy", "scale": {"domain": [0.4467, 1.0264], "nice": false, "zero": false}, "axis": {"values": [0.5, 0.6, 0.7, 0.8, 0.9, 1.0], "format": ".1f"}}, "color": {"field": "series", "type": "nominal", "scale": {"domain": ["Train", "Test"], "range": ["#1f77b4", "#ff7f0e"]}}}},
{"width": 322, "height": 211, "title": {"text": "BiLSTM with SMOTE", "subtitle": "Model accuracy", "subtitlePadding": 20}, "data": {"name": "p6"}, "transform": [{"fold": ["Train", "Test"], "as": ["series", "acc"]}], "mark": {"type": "line", "strokeWidth": 1.5},
 "encoding": {"x": {"field": "e", "type": "quantitative", "title": "Epoch", "scale": {"domain": [-4.95, 103.95], "nice": false, "zero": false}, "axis": {"values": [0, 20, 40, 60, 80, 100]}}, "y": {"field": "acc", "type": "quantitative", "title": "Accuracy", "scale": {"domain": [0.4047, 1.0284], "nice": false, "zero": false}, "axis": {"values": [0.5, 0.6, 0.7, 0.8, 0.9, 1.0], "format": ".1f"}}, "color": {"field": "series", "type": "nominal", "scale": {"domain": ["Train", "Test"], "range": ["#1f77b4", "#ff7f0e"]}}}}
]
}
